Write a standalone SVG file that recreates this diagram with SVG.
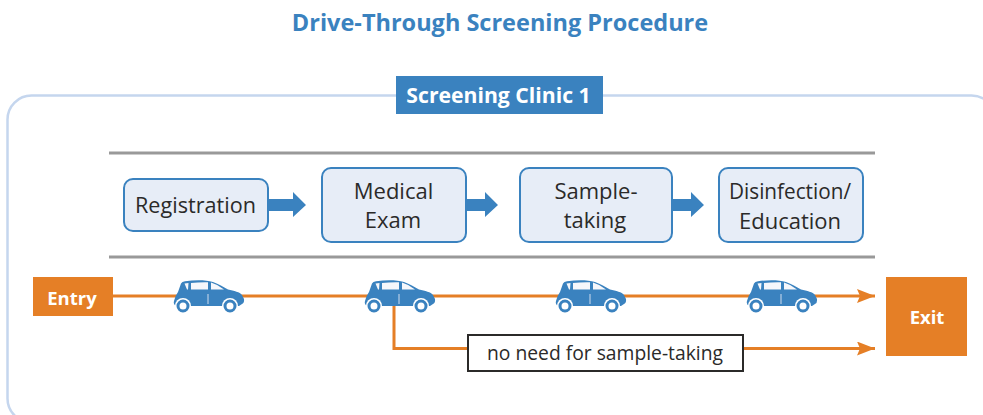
<svg xmlns="http://www.w3.org/2000/svg" width="983" height="415" viewBox="0 0 983 415">
<style>
text{font-family:"Open Sans","Noto Sans","Liberation Sans",sans-serif}
.step{fill:#e7edf7;stroke:#3a82bf;stroke-width:2}
.lbl{font-size:22px;fill:#2b2a29;text-anchor:middle}
.ln{stroke:#e57f26;stroke-width:3;fill:none}
.rule{stroke:#999;stroke-width:3}
.ba{fill:#3a82bf}
</style>
<defs>
<marker id="oa" markerUnits="userSpaceOnUse" markerWidth="18" markerHeight="14" refX="18" refY="7" orient="auto"><path d="M0 0L18 7L0 14L3 7Z" fill="#e57f26"/></marker>
<g id="car">
<path d="M-33 10Q-36 8-35 5Q-34 0-31-4L-28-12.500Q-27-14.500-24-14.800C-14-16.200 -3-16.200 4-14C10-12 14-9 19-6.500C25-5 31-4 33-1L35 3Q35.500 7 33 8L30 10Z" fill="#3a82bf"/>
<path d="M-24.500-12.500L-22-6.500L-21-6.500L-20.500-13Q-22-13-24.500-12.500ZM-18-13L-18-6.500L-1-6.500L-1-13.800Q-10-14-18-13ZM2-13.500L2-6.500L15-6.500Q9-11.500 2-13.500Z" fill="#f6f7fb"/>
<path d="M-1-2V8" stroke="#cfdcee" stroke-width="1" fill="none"/>
<circle cx="-26" cy="10" r="8" fill="#fff"/>
<circle cx="21" cy="10" r="8" fill="#fff"/>
<circle cx="-26" cy="10" r="5" fill="#fff" stroke="#3a82bf" stroke-width="3"/>
<circle cx="21" cy="10" r="5" fill="#fff" stroke="#3a82bf" stroke-width="3"/>
</g>
</defs>
<text x="500" y="31" font-size="23.500" font-weight="700" fill="#3a82bf" text-anchor="middle">Drive-Through Screening Procedure</text>
<rect x="7.500" y="95.500" width="988" height="327" rx="24" fill="none" stroke="#c5d6ee" stroke-width="2.500"/>
<g id="clinic-title"><rect x="396" y="76" width="207" height="38" fill="#3a82bf"/><text x="498.500" y="103" font-size="21.200" font-weight="700" fill="#fff" text-anchor="middle">Screening Clinic 1</text></g>
<line class="rule" x1="109" y1="153" x2="875" y2="153"/>
<line class="rule" x1="109" y1="257" x2="875" y2="257"/>
<g id="connectors">
<path class="ba" d="M268 199H293V192L306 205L293 217V211H268Z"/>
<path class="ba" d="M466 199H485V192L498 205L485 217V211H466Z"/>
<path class="ba" d="M672 199H691V192L704 205L691 217V211H672Z"/>
<line class="ln" x1="113" y1="296" x2="875" y2="296" marker-end="url(#oa)"/>
<path class="ln" d="M394 300V348.500H467"/>
<line class="ln" x1="744" y1="348.500" x2="875" y2="348.500" marker-end="url(#oa)"/>
</g>
<g id="registration"><rect class="step" x="124" y="179" width="144" height="52" rx="9"/><text class="lbl" x="195.500" y="213" textLength="121" lengthAdjust="spacingAndGlyphs">Registration</text></g>
<g id="medical-exam"><rect class="step" x="322" y="168" width="144" height="74" rx="9"/><text class="lbl" x="393.500" y="199">Medical</text><text class="lbl" x="393" y="228">Exam</text></g>
<g id="sample-taking"><rect class="step" x="520" y="168" width="152" height="74" rx="9"/><text class="lbl" x="596" y="199">Sample-</text><text class="lbl" x="595" y="228">taking</text></g>
<g id="disinfection"><rect class="step" x="719" y="168" width="144" height="74" rx="9"/><text class="lbl" x="790" y="199" textLength="122" lengthAdjust="spacingAndGlyphs">Disinfection/</text><text class="lbl" x="790" y="229">Education</text></g>
<g id="entry"><rect x="33" y="277" width="80" height="39" fill="#e57f26"/><text x="72" y="305" font-size="18.500" font-weight="700" fill="#fff" text-anchor="middle">Entry</text></g>
<g id="exit"><rect x="886" y="277" width="81" height="79" fill="#e57f26"/><text x="927" y="324" font-size="18.500" font-weight="700" fill="#fff" text-anchor="middle">Exit</text></g>
<g id="no-need"><rect x="468" y="335" width="275" height="36" fill="#fff" stroke="#2b2a29" stroke-width="2"/><text x="605" y="360" font-size="19.300" fill="#2b2a29" text-anchor="middle">no need for sample-taking</text></g>
<g id="cars"><use href="#car" x="209" y="296"/><use href="#car" x="400" y="296"/><use href="#car" x="591" y="296"/><use href="#car" x="782" y="296"/></g>
</svg>
